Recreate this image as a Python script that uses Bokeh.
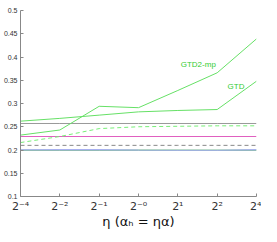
from bokeh.plotting import figure
from bokeh.models import Range1d, FixedTicker, Label
from bokeh.embed import file_html
from bokeh.resources import INLINE

eta_labels = ["2⁻⁴", "2⁻²", "2⁻¹", "2⁻⁰", "2¹", "2²", "2⁴"]
gtd2_mp = [0.232, 0.243, 0.294, 0.291, 0.328, 0.366, 0.439]
gtd = [0.262, 0.268, 0.275, 0.282, 0.285, 0.287, 0.348]
green_dashed = [0.216, 0.229, 0.246, 0.250, 0.251, 0.252, 0.252]
gray_solid = [0.257, 0.257, 0.257, 0.257, 0.257, 0.257, 0.257]
magenta = [0.229, 0.229, 0.229, 0.229, 0.229, 0.229, 0.229]
gray_dashed = [0.210, 0.210, 0.210, 0.210, 0.210, 0.210, 0.210]
blue_line = [0.2005, 0.201, 0.2008, 0.2, 0.1995, 0.1995, 0.2008]
teal_line = [0.1995, 0.1995, 0.1995, 0.1995, 0.1993, 0.1992, 0.1995]
light_green = [0.2, 0.2, 0.2, 0.2, 0.2, 0.2, 0.2]
y_ticks = [0.1, 0.15, 0.2, 0.25, 0.3, 0.35, 0.4, 0.45, 0.5]

x = list(range(len(eta_labels)))

p = figure(width=261, height=231, output_backend="svg", toolbar_location=None,
           x_range=Range1d(0, 6), y_range=Range1d(0.1, 0.5),
           min_border_left=17, min_border_right=5, min_border_top=10, min_border_bottom=20)
p.outline_line_color = None
p.xgrid.visible = False
p.ygrid.visible = False
p.background_fill_color = "white"
p.border_fill_color = "white"

p.line(x, light_green, color="#a8f090", line_width=1.2)
p.line(x, teal_line, color="#70a898", line_width=1)
p.line(x, blue_line, color="#a8b0f0", line_width=1.2)
p.line(x, gray_dashed, color="#888888", line_width=1, line_dash="4 3")
p.line(x, magenta, color="#e060c0", line_width=1.1)
p.line(x, gray_solid, color="#999999", line_width=1)
p.line(x, green_dashed, color="#77ee77", line_width=1, line_dash="4 3")
p.line(x, gtd, color="#66e066", line_width=1)
p.line(x, gtd2_mp, color="#66e066", line_width=1)

p.add_layout(Label(x=4.52, y=0.384, text="GTD2-mp", text_color="#33cc33",
                   text_font="Liberation Sans", text_font_size="8px",
                   text_align="center", text_baseline="middle"))
p.add_layout(Label(x=5.48, y=0.337, text="GTD", text_color="#33cc33",
                   text_font="Liberation Sans", text_font_size="8px",
                   text_align="center", text_baseline="middle"))

for ax in (p.xaxis[0], p.yaxis[0]):
    ax.axis_line_color = "#888888"
    ax.major_tick_line_color = "#888888"
    ax.major_tick_in = 3
    ax.major_tick_out = 0
    ax.minor_tick_line_color = None
    ax.major_label_text_color = "#333333"

p.xaxis.ticker = FixedTicker(ticks=x)
p.xaxis.major_label_overrides = {i: lab for i, lab in enumerate(eta_labels)}
p.xaxis.major_label_text_font = "DejaVu Sans"
p.xaxis.major_label_text_font_size = "11px"
p.xaxis.major_label_standoff = 3
p.yaxis.ticker = FixedTicker(ticks=y_ticks)
p.yaxis.major_label_overrides = {v: ("%g" % v) for v in y_ticks}
p.yaxis.major_label_text_font = "Liberation Sans"
p.yaxis.major_label_text_font_size = "7px"
p.yaxis.major_label_standoff = 3
p.xaxis.axis_label = "η (αₕ = ηα)"
p.xaxis.axis_label_text_font = "DejaVu Sans"
p.xaxis.axis_label_text_font_style = "normal"
p.xaxis.axis_label_text_font_size = "13px"
p.xaxis.axis_label_text_color = "#111111"
p.xaxis.axis_label_standoff = -2

open("out.html", "w").write(file_html(p, INLINE))
